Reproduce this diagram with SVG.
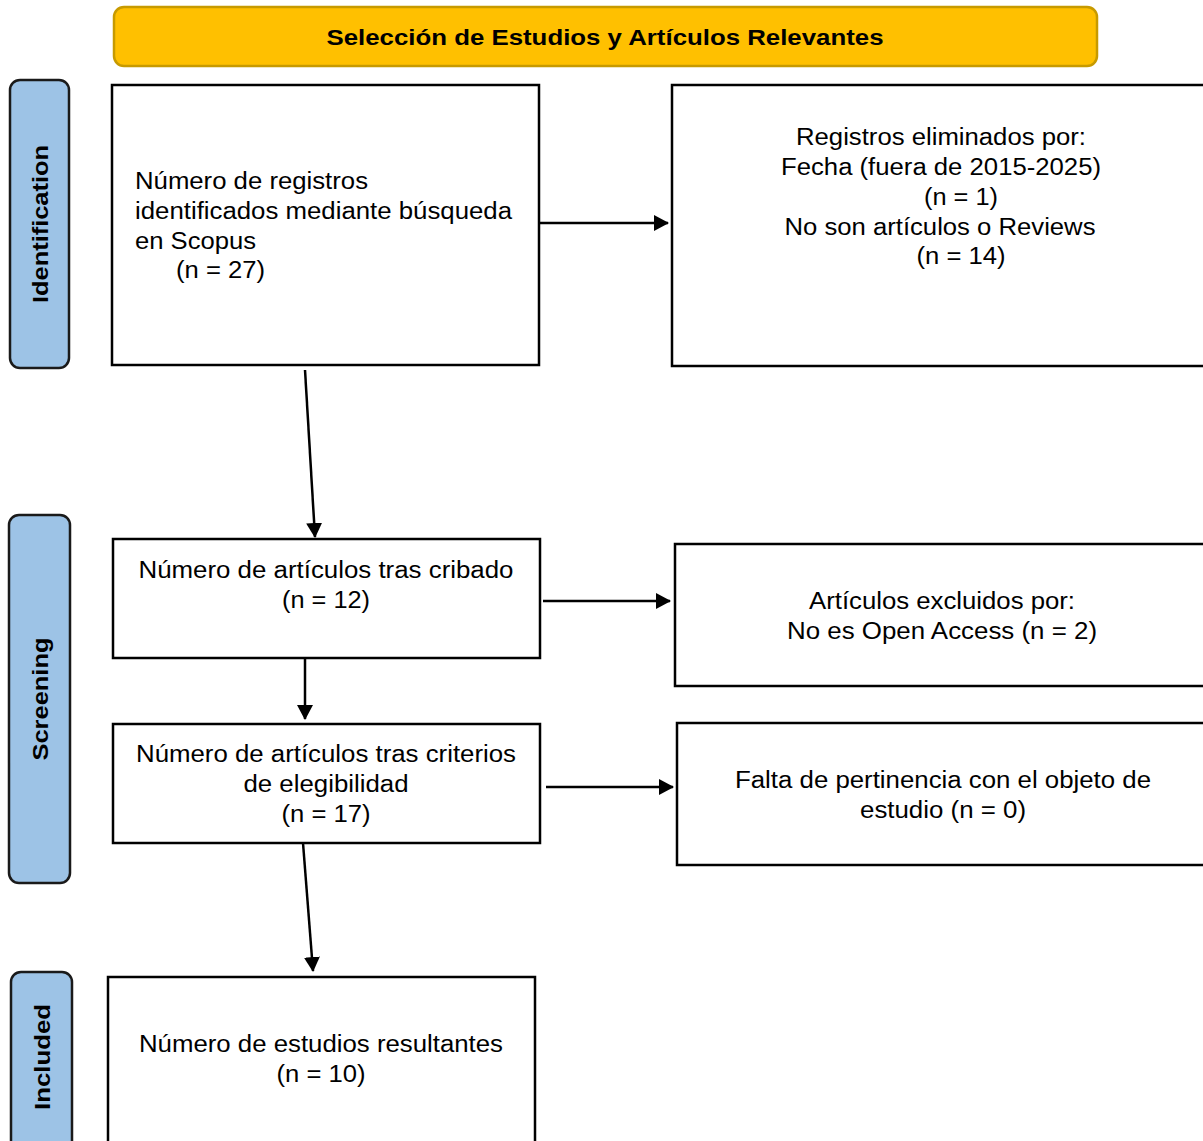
<svg xmlns="http://www.w3.org/2000/svg" width="1203" height="1141" viewBox="0 0 1203 1141">
<defs>
<marker id="ah" markerWidth="15" markerHeight="16" refX="14" refY="8" orient="auto" markerUnits="userSpaceOnUse">
<path d="M0,0 L15,8 L0,16 Z" fill="#000"/>
</marker>
<style>
.box{fill:#fff;stroke:#000;stroke-width:2.5}
.side{fill:#9DC3E6;stroke:#1a1a1a;stroke-width:2.5}
.t{font-family:"Liberation Sans",Arial,sans-serif;font-size:23px;fill:#000}
.c{text-anchor:middle}
.sl{font-family:"Liberation Sans",Arial,sans-serif;font-size:22px;font-weight:bold;fill:#000;text-anchor:middle}
.conn{stroke:#000;stroke-width:2.5;fill:none;marker-end:url(#ah)}
</style>
</defs>
<rect width="1203" height="1141" fill="#fff"/>
<g id="title">
<rect x="114" y="7" width="983" height="59" rx="10" fill="#FFC000" stroke="#C79A00" stroke-width="2.5"/>
<text x="605" y="45" font-family="'Liberation Sans',Arial,sans-serif" font-size="22" font-weight="bold" text-anchor="middle" textLength="557" lengthAdjust="spacingAndGlyphs">Selección de Estudios y Artículos Relevantes</text>
</g>
<g id="lbl-identification">
<rect class="side" x="10" y="80" width="59" height="288" rx="10"/>
<text class="sl" transform="translate(48,224) rotate(-90)" textLength="158" lengthAdjust="spacingAndGlyphs">Identification</text>
</g>
<g id="lbl-screening">
<rect class="side" x="9" y="515" width="61" height="368" rx="10"/>
<text class="sl" transform="translate(48,699) rotate(-90)" textLength="123" lengthAdjust="spacingAndGlyphs">Screening</text>
</g>
<g id="lbl-included">
<rect class="side" x="11" y="972" width="61" height="180" rx="10"/>
<text class="sl" transform="translate(50,1057) rotate(-90)" textLength="106" lengthAdjust="spacingAndGlyphs">Included</text>
</g>
<g id="n1">
<rect class="box" x="112" y="85" width="427" height="280"/>
<text class="t" x="135" y="189" textLength="233" lengthAdjust="spacingAndGlyphs">Número de registros</text>
<text class="t" x="135" y="219" textLength="377" lengthAdjust="spacingAndGlyphs">identificados mediante búsqueda</text>
<text class="t" x="135" y="249" textLength="121" lengthAdjust="spacingAndGlyphs">en Scopus</text>
<text class="t" x="176" y="278" textLength="89" lengthAdjust="spacingAndGlyphs">(n = 27)</text>
</g>
<g id="n2">
<rect class="box" x="672" y="85" width="545" height="281"/>
<text class="t c" x="941" y="145" textLength="290" lengthAdjust="spacingAndGlyphs">Registros eliminados por:</text>
<text class="t c" x="941" y="175" textLength="320" lengthAdjust="spacingAndGlyphs">Fecha (fuera de 2015-2025)</text>
<text class="t c" x="961" y="205" textLength="74" lengthAdjust="spacingAndGlyphs">(n = 1)</text>
<text class="t c" x="940" y="235" textLength="311" lengthAdjust="spacingAndGlyphs">No son artículos o Reviews</text>
<text class="t c" x="961" y="264" textLength="89" lengthAdjust="spacingAndGlyphs">(n = 14)</text>
</g>
<g id="n3">
<rect class="box" x="113" y="539" width="427" height="119"/>
<text class="t c" x="326" y="578" textLength="375" lengthAdjust="spacingAndGlyphs">Número de artículos tras cribado</text>
<text class="t c" x="326" y="608" textLength="88" lengthAdjust="spacingAndGlyphs">(n = 12)</text>
</g>
<g id="n4">
<rect class="box" x="675" y="544" width="540" height="142"/>
<text class="t c" x="942" y="609" textLength="266" lengthAdjust="spacingAndGlyphs">Artículos excluidos por:</text>
<text class="t c" x="942" y="639" textLength="310" lengthAdjust="spacingAndGlyphs">No es Open Access (n = 2)</text>
</g>
<g id="n5">
<rect class="box" x="113" y="724" width="427" height="119"/>
<text class="t c" x="326" y="762" textLength="380" lengthAdjust="spacingAndGlyphs">Número de artículos tras criterios</text>
<text class="t c" x="326" y="792" textLength="165" lengthAdjust="spacingAndGlyphs">de elegibilidad</text>
<text class="t c" x="326" y="822" textLength="89" lengthAdjust="spacingAndGlyphs">(n = 17)</text>
</g>
<g id="n6">
<rect class="box" x="677" y="723" width="540" height="142"/>
<text class="t c" x="943" y="788" textLength="416" lengthAdjust="spacingAndGlyphs">Falta de pertinencia con el objeto de</text>
<text class="t c" x="943" y="818" textLength="166" lengthAdjust="spacingAndGlyphs">estudio (n = 0)</text>
</g>
<g id="n7">
<rect class="box" x="108" y="977" width="427" height="175"/>
<text class="t c" x="321" y="1052" textLength="364" lengthAdjust="spacingAndGlyphs">Número de estudios resultantes</text>
<text class="t c" x="321" y="1082" textLength="89" lengthAdjust="spacingAndGlyphs">(n = 10)</text>
</g>
<g id="connectors">
<line class="conn" x1="540" y1="223" x2="668" y2="223"/>
<line class="conn" x1="305" y1="370" x2="315" y2="537"/>
<line class="conn" x1="543" y1="601" x2="670" y2="601"/>
<line class="conn" x1="305" y1="658" x2="305" y2="719"/>
<line class="conn" x1="546" y1="787" x2="673" y2="787"/>
<line class="conn" x1="303" y1="843" x2="313" y2="971"/>
</g>
</svg>
